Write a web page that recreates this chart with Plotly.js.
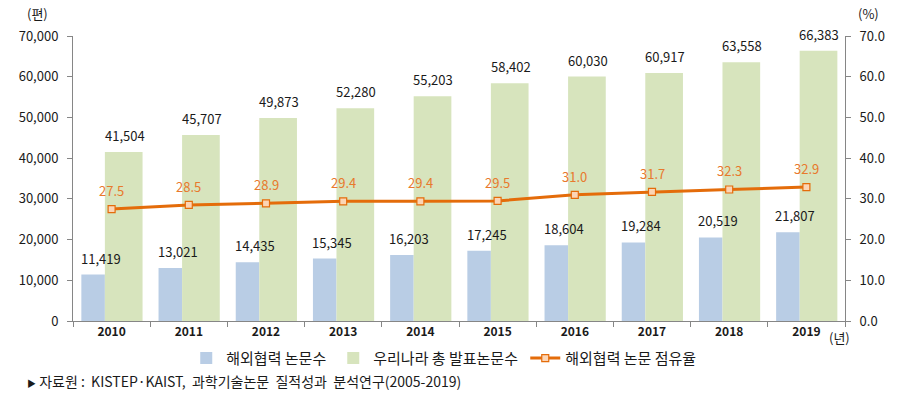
<!DOCTYPE html>
<html><head><meta charset="utf-8">
<script src="https://cdn.plot.ly/plotly-3.0.1.min.js"></script>
<style>html,body{margin:0;padding:0;background:#fff}#chart{width:898px;height:403px}</style>
</head><body><div id="chart"></div>
<script>
const years = ['2010','2011','2012','2013','2014','2015','2016','2017','2018','2019'];
const intlPapers = [11419, 13021, 14435, 15345, 16203, 17245, 18604, 19284, 20519, 21807];
const totalPapers = [41504, 45707, 49873, 52280, 55203, 58402, 60030, 60917, 63558, 66383];
const intlShare = [27.5, 28.5, 28.9, 29.4, 29.4, 29.5, 31.0, 31.7, 32.3, 32.9];
const seriesNames = ['해외협력 논문수', '우리나라 총 발표논문수', '해외협력 논문 점유율'];

const FONT = '"Noto Sans CJK KR", "Noto Sans", sans-serif';
const BLUE = '#b9cde5', GREEN = '#d7e4bd', ORANGE = '#e46c0a', LBL_OR = '#e8792c';

const traces = [
  {type:'bar', name: seriesNames[0], x: years, y: intlPapers, marker:{color: BLUE},
   offset: -0.392, width: 0.305, hoverinfo:'skip', legendwidth: 102},
  {type:'bar', name: seriesNames[1], x: years, y: totalPapers, marker:{color: GREEN},
   offset: -0.087, width: 0.488, hoverinfo:'skip', legendwidth: 147},
  {type:'scatter', mode:'lines+markers', name: seriesNames[2], x: years, y: intlShare, yaxis:'y2',
   line:{color: ORANGE, width: 3},
   marker:{symbol:'square', size:7, color:'#fcd5b5', line:{color: ORANGE, width:1.2}}}
];

const ann = [];
years.forEach((yr, i) => {
  ann.push({x: i, y: intlPapers[i], xref:'x', yref:'y', text: intlPapers[i].toLocaleString('en-US'),
    showarrow:false, yanchor:'bottom', xshift:-11, yshift:5, font:{family:FONT, size:13, color:'#1a1a1a'}});
  ann.push({x: i, y: totalPapers[i], xref:'x', yref:'y', text: totalPapers[i].toLocaleString('en-US'),
    showarrow:false, yanchor:'bottom', xshift:13, yshift:5, font:{family:FONT, size:13, color:'#1a1a1a'}});
  ann.push({x: i, y: intlShare[i], xref:'x', yref:'y2', text: intlShare[i].toFixed(1),
    showarrow:false, yanchor:'bottom', xshift:0, yshift:7, font:{family:FONT, size:13, color: LBL_OR}});
});
ann.push({xref:'paper', yref:'paper', x:-0.046, y:1.08, text:'(편)', showarrow:false, xanchor:'center', yanchor:'middle',
  font:{family:FONT, size:13, color:'#1a1a1a'}});
ann.push({xref:'paper', yref:'paper', x:1.03, y:1.08, text:'(%)', showarrow:false, xanchor:'center', yanchor:'middle',
  font:{family:FONT, size:13, color:'#1a1a1a'}});
ann.push({xref:'paper', yref:'paper', x:0.977, y:-0.058, text:'(년)', showarrow:false, xanchor:'left', yanchor:'middle',
  font:{family:FONT, size:13, color:'#1a1a1a'}});
ann.push({xref:'paper', yref:'paper', x:-0.062, y:-0.21,
  text:'<span style="font-size:9px">▶</span> 자료원 :  KISTEP·KAIST,  과학기술논문  질적성과  분석연구(2005-2019)',
  showarrow:false, xanchor:'left', yanchor:'middle', font:{family:FONT, size:14, color:'#1a1a1a'}});

const layout = {
  width: 898, height: 403,
  margin: {l: 72.7, r: 53, t: 36, b: 82.3},
  paper_bgcolor:'#fff', plot_bgcolor:'#fff',
  barmode:'overlay',
  font:{family: FONT, size:13, color:'#1a1a1a'},
  showlegend:true,
  legend:{orientation:'h', x:0.1467, y:-0.131, xanchor:'left', yanchor:'middle',
    font:{family:FONT, size:15, color:'#1a1a1a'}, traceorder:'normal', itemwidth:30},
  xaxis:{type:'category', showgrid:false, zeroline:false, showline:true, linecolor:'#868686', linewidth:1,
    ticks:'outside', tickson:'boundaries', ticklen:5, tickcolor:'#868686',
    tickfont:{family:FONT, size:12, color:'#1a1a1a', weight:'bold'}, range:[-0.5, 9.5]},
  yaxis:{range:[0, 70000], dtick:10000, tickformat:',d', showgrid:false, zeroline:false,
    showline:true, linecolor:'#868686', ticks:'outside', ticklen:5, tickcolor:'#868686',
    ticklabelstandoff:6, tickfont:{family:FONT, size:13, color:'#1a1a1a'}},
  yaxis2:{overlaying:'y', side:'right', range:[0, 70], dtick:10, tickformat:'.1f', showgrid:false, zeroline:false,
    showline:true, linecolor:'#868686', ticks:'outside', ticklen:5, tickcolor:'#868686',
    ticklabelstandoff:6, tickfont:{family:FONT, size:13, color:'#1a1a1a'}},
  annotations: ann
};

Plotly.newPlot('chart', traces, layout, {displayModeBar:false, staticPlot:true});
</script></body></html>
